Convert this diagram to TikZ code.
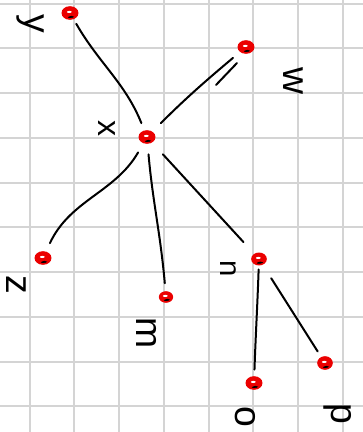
\documentclass[tikz,border=0pt]{standalone}
\usepackage{fontspec}
\setmainfont{Liberation Sans}
\usetikzlibrary{shapes.geometric,calc}
\definecolor{gridgray}{RGB}{212,212,212}
\definecolor{vred}{RGB}{235,0,0}
\begin{document}
\begin{tikzpicture}[x=0.75pt,y=-0.75pt,
  gridline/.style={draw=gridgray,line width=1.5pt},
  vert/.style={ellipse,draw=vred,fill=vred,line width=1.2pt,inner sep=0pt,
    minimum width=11.5pt,minimum height=9pt,
    path picture={\fill[white] ([xshift=-0.5pt,yshift=0.8pt]path picture bounding box.center) ellipse (1.8pt and 0.8pt);
                  \fill[black] ([xshift=1pt,yshift=0.5pt]path picture bounding box.south) ellipse (2.8pt and 1.8pt);}},
  edge/.style={line width=1.5pt,line cap=round},
  lab/.style={rotate=-90,inner sep=0pt,font=\fontsize{28}{28}\selectfont}]
\fill[white] (0,0) rectangle (363,432);
\useasboundingbox (0,0) rectangle (363,432);
\foreach \k in {0,...,7} \draw[gridline] ({29.5+44.75*\k},0) -- ({29.5+44.75*\k},432);
\foreach \k in {0,...,9} \draw[gridline] (0,{3.5+44.75*\k}) -- (363,{3.5+44.75*\k});
% vertices
\node[vert] (y) at (70,13) {};
\node[vert] (x) at (147,137) {};
\node[vert] (w) at (246,47) {};
\node[vert] (z) at (43,258) {};
\node[vert,minimum width=9.5pt,minimum height=7.5pt] (m) at (166,297) {};
\node[vert,minimum width=10.5pt,minimum height=8.5pt] (n) at (259,259) {};
\node[vert] (o) at (254,383) {};
\node[vert,minimum width=10.5pt,minimum height=9pt] (p) at (325,363) {};
% labels
\node[lab] (ly) at (30,24) {y};
\node[lab,font=\fontsize{24}{24}\selectfont] (lx) at (107,128) {x};
\node[lab] (lw) at (293,81) {w};
\node[lab] (lz) at (16,285) {z};
\node[lab] (lm) at (147,333) {m};
\node[lab,font=\fontsize{22}{22}\selectfont] (ln) at (228,269) {n};
\node[lab] (lo) at (245,417) {o};
\node[lab] (lp) at (338,414) {p};
% connectors
\draw[edge,shorten <=4pt,shorten >=6pt] (y) to[out=-60,in=112] (x);
\draw[edge,shorten <=9pt,shorten >=7pt] (x) to[out=45,in=-140] (w);
\coordinate (w1) at ($(w)+(-30,38)$);
\coordinate (w2) at ($(w)+(-9,16)$);
\draw[edge] (w1) -- (w2);
\draw[edge,shorten <=8pt,shorten >=7pt] (x) to[out=-120,in=65] (z);
\draw[edge,shorten <=8pt,shorten >=6pt] (x) to[out=-85,in=95] (m);
\draw[edge,shorten <=12pt,shorten >=12pt] (x) -- (n);
\draw[edge,shorten <=3pt,shorten >=5pt] (n) to[out=-92,in=88] (o);
\draw[edge,shorten <=12pt,shorten >=5pt] (n) -- (p);
\end{tikzpicture}
\end{document}
